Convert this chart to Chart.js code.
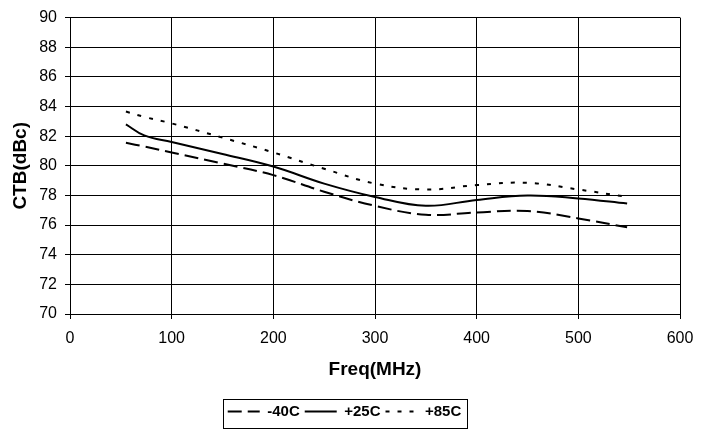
<!DOCTYPE html>
<html lang="en">
<head>
    <meta charset="UTF-8">
    <title>CTB vs Freq</title>
    <script src="https://cdn.jsdelivr.net/npm/chart.js"></script>
    <style>
        html, body { margin: 0; padding: 0; background: #fff; }
        #wrap { width: 712px; height: 429px; }
    </style>
</head>
<body>
    <div id="wrap">
        <canvas id="ctbChart" width="712" height="429"></canvas>
    </div>

    <script>
        // frequencies (MHz)
        const freqs = [55, 73, 100, 150, 200, 250, 300, 350, 400, 450, 500, 548];

        // CTB (dBc) per temperature
        const ctbMinus40 = [81.55, 81.3, 80.9, 80.15, 79.37, 78.25, 77.3, 76.7, 76.85, 76.95, 76.45, 75.85];
        const ctbPlus25 = [82.8, 82.05, 81.6, 80.8, 79.95, 78.8, 77.9, 77.3, 77.7, 78.0, 77.8, 77.45];
        const ctbPlus85 = [83.66, 83.3, 82.86, 81.9, 80.9, 79.8, 78.8, 78.4, 78.7, 78.85, 78.4, 77.9];

        const seriesNames = ['-40C', '+25C', '+85C'];

        function toPoints(values) {
            return freqs.map((f, i) => ({ x: f, y: values[i] }));
        }

        const fontFamily = '"Liberation Sans", Arial, sans-serif';

        // draws the frame round the legend, like the original
        const legendFrame = {
            id: 'legendFrame',
            afterDraw(chart) {
                const boxes = chart.legend.legendHitBoxes;
                if (!boxes || !boxes.length) return;
                const left = Math.min(...boxes.map(b => b.left)) - 5;
                const right = Math.max(...boxes.map(b => b.left + b.width)) + 5;
                const ctx = chart.ctx;
                ctx.save();
                ctx.strokeStyle = '#000';
                ctx.lineWidth = 1;
                ctx.strokeRect(Math.round(left) + 0.5, chart.legend.top + 0.5,
                    Math.round(right - left), chart.legend.height - 1);
                ctx.restore();
            }
        };

        const ctx = document.getElementById('ctbChart').getContext('2d');
        const chart = new Chart(ctx, {
            type: 'line',
            data: {
                datasets: [{
                    label: seriesNames[0],
                    data: toPoints(ctbMinus40),
                    borderColor: '#000',
                    borderWidth: 2,
                    borderDash: [14, 6]
                }, {
                    label: seriesNames[1],
                    data: toPoints(ctbPlus25),
                    borderColor: '#000',
                    borderWidth: 2
                }, {
                    label: seriesNames[2],
                    data: toPoints(ctbPlus85),
                    borderColor: '#000',
                    borderWidth: 2,
                    borderDash: [4, 8]
                }]
            },
            options: {
                responsive: false,
                animation: false,
                tension: 0.4,
                pointRadius: 0,
                pointHoverRadius: 0,
                layout: {
                    padding: { left: 9, right: 32, top: 13, bottom: 0 }
                },
                plugins: {
                    tooltip: { enabled: false },
                    legend: {
                        position: 'bottom',
                        labels: {
                            usePointStyle: true,
                            pointStyle: 'line',
                            pointStyleWidth: 32,
                            padding: 5,
                            color: '#000',
                            font: { family: fontFamily, size: 15, weight: 'bold' },
                            generateLabels(chart) {
                                const items = Chart.defaults.plugins.legend.labels.generateLabels(chart);
                                items.forEach(item => {
                                    const ds = chart.data.datasets[item.datasetIndex];
                                    item.lineDash = ds.borderDash || [];
                                    item.lineWidth = ds.borderWidth;
                                    item.strokeStyle = ds.borderColor;
                                });
                                return items;
                            }
                        }
                    }
                },
                scales: {
                    x: {
                        type: 'linear',
                        min: 0,
                        max: 600,
                        ticks: {
                            stepSize: 100,
                            padding: 10,
                            color: '#000',
                            font: { family: fontFamily, size: 16 }
                        },
                        grid: { color: '#000', tickLength: 5 },
                        border: { color: '#000' },
                        title: {
                            display: true,
                            text: 'Freq(MHz)',
                            color: '#000',
                            padding: { top: 4, bottom: 18 },
                            font: { family: fontFamily, size: 19, weight: 'bold' }
                        },
                        afterFit(scale) { scale.height = 85; }
                    },
                    y: {
                        min: 70,
                        max: 90,
                        ticks: {
                            stepSize: 2,
                            padding: 8,
                            color: '#000',
                            font: { family: fontFamily, size: 16 }
                        },
                        grid: { color: '#000', tickLength: 5 },
                        border: { color: '#000' },
                        title: {
                            display: true,
                            text: 'CTB(dBc)',
                            color: '#000',
                            padding: { top: 0, bottom: 4 },
                            font: { family: fontFamily, size: 19, weight: 'bold' }
                        },
                        afterFit(scale) { scale.width = 61; }
                    }
                }
            },
            plugins: [legendFrame]
        });
    </script>
</body>
</html>
